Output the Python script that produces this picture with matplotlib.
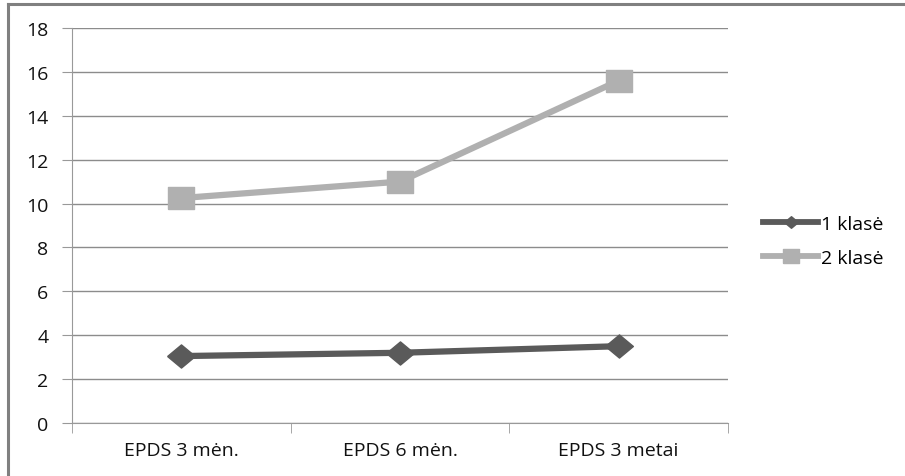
import matplotlib
matplotlib.use("Agg")
import matplotlib.pyplot as plt
from matplotlib.lines import Line2D

categories = ["EPDS 3 mėn.", "EPDS 6 mėn.", "EPDS 3 metai"]
series_names = ["1 klasė", "2 klasė"]
klase1 = [3.05, 3.2, 3.5]
klase2 = [10.25, 11.0, 15.6]
yticks = [0, 2, 4, 6, 8, 10, 12, 14, 16, 18]

plt.rcParams['font.family'] = ['Open Sans', 'DejaVu Sans']

fig = plt.figure(figsize=(9.05, 4.77), dpi=100)
ax = fig.add_axes([72/905, 1-424/477, (728-72)/905, (424-29)/477])

# slightly wide markers, as in the reference
diamond = [(-1.2, 0), (0, 1), (1.2, 0), (0, -1), (-1.2, 0)]
rect = [(-1.12, -1), (1.12, -1), (1.12, 1), (-1.12, 1), (-1.12, -1)]

x = list(range(len(categories)))
c1 = '#5a5a5a'
c2 = '#b0b0b0'
ax.plot(x, klase1, color=c1, lw=4.5, marker=diamond, markersize=20, zorder=3,
        solid_joinstyle='round', solid_capstyle='round')
ax.plot(x, klase2, color=c2, lw=4.5, marker=rect, markersize=18.5, zorder=3,
        solid_joinstyle='round', solid_capstyle='round')

ax.set_xlim(-0.5, 2.5)
ax.set_ylim(0, 18)
ax.set_yticks(yticks)
ax.set_yticklabels([str(v) for v in yticks], fontsize=14, color='#111111')
ax.set_xticks(x)
ax.set_xticklabels(categories, fontsize=14, color='#111111')
ax.tick_params(axis='x', which='major', length=0, pad=13)
ax.set_xticks([-0.5, 0.5, 1.5, 2.5], minor=True)
ax.tick_params(axis='x', which='minor', length=7, color='#999999', direction='out')
ax.tick_params(axis='y', length=7, color='#999999', direction='out', pad=10)

ax.grid(axis='y', color='#8c8c8c', lw=1)
ax.set_axisbelow(True)
for s in ['top', 'right']:
    ax.spines[s].set_visible(False)
ax.spines['left'].set_color('#999999')
ax.spines['bottom'].set_color('#999999')

handles = [Line2D([], [], color=c1, lw=4.2, marker=diamond, markersize=10),
           Line2D([], [], color=c2, lw=4.2, marker=rect, markersize=12)]
fig.legend(handles, series_names, loc='center left',
           bbox_to_anchor=(763/905, 1-242/477),
           frameon=False, fontsize=14, handlelength=2.85, handletextpad=0.15,
           labelspacing=0.8, borderaxespad=0, borderpad=0)

# outer frame (top and left borders)
fig.add_artist(Line2D([7.5/905, 1], [1-4.5/477, 1-4.5/477], color='#808080', lw=2.2,
                      transform=fig.transFigure))
fig.add_artist(Line2D([7.5/905, 7.5/905], [0, 1-4.5/477], color='#808080', lw=2.2,
                      transform=fig.transFigure))

fig.savefig("out.png", dpi=100)
